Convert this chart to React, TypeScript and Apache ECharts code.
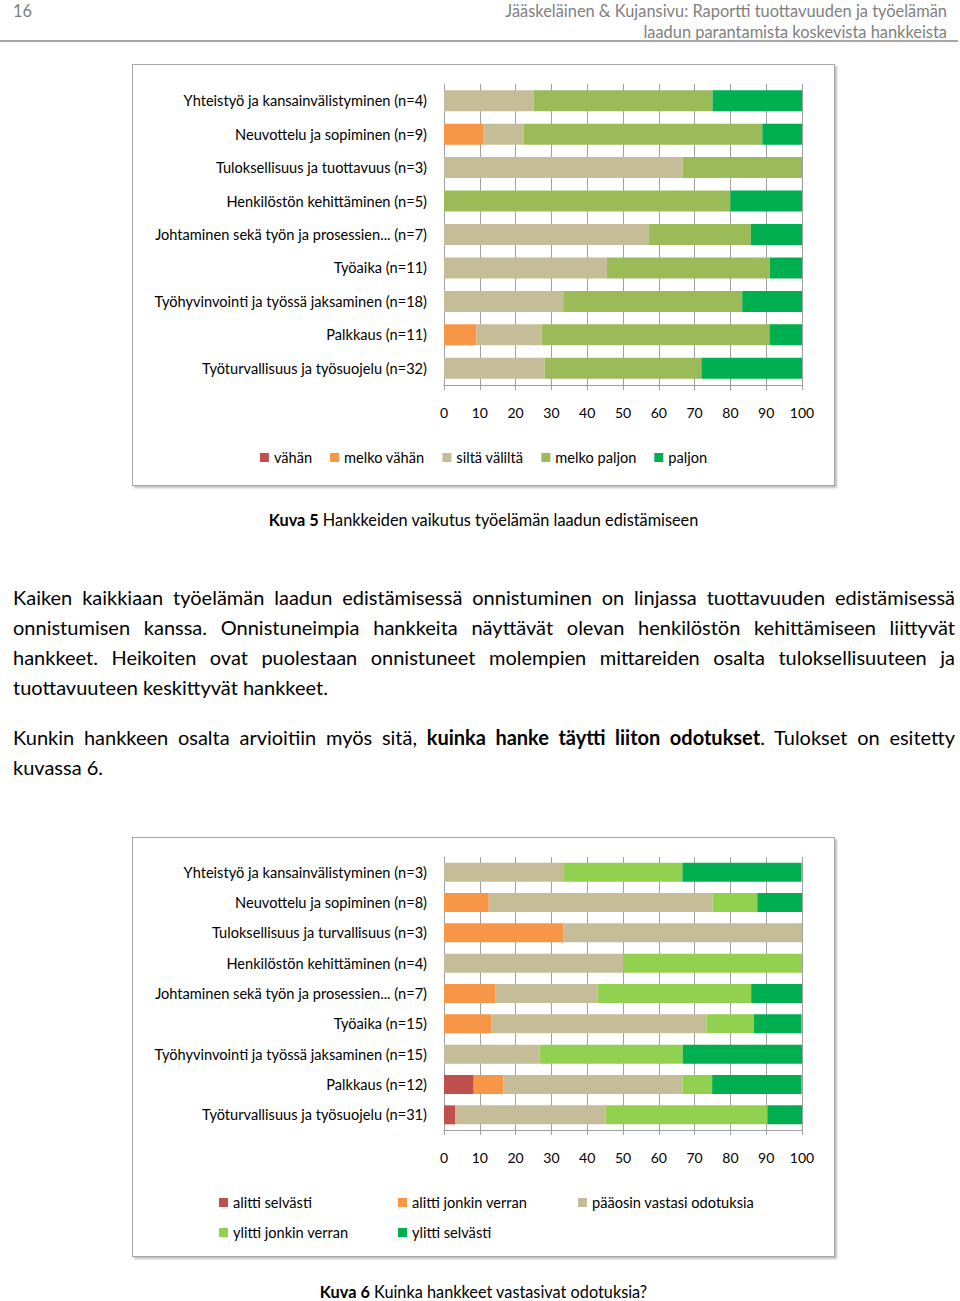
import React, { useEffect, useRef } from "react";
import * as echarts from "echarts";

const FONT = "Lato, 'Open Sans', sans-serif";

// ---- Chart 1 data (Kuva 5) ----
const cats1 = [
  "Yhteistyö ja kansainvälistyminen (n=4)",
  "Neuvottelu ja sopiminen (n=9)",
  "Tuloksellisuus ja tuottavuus (n=3)",
  "Henkilöstön kehittäminen (n=5)",
  "Johtaminen sekä työn ja prosessien... (n=7)",
  "Työaika (n=11)",
  "Työhyvinvointi ja työssä jaksaminen (n=18)",
  "Palkkaus (n=11)",
  "Työturvallisuus ja työsuojelu (n=32)",
];
const names1 = ["vähän", "melko vähän", "siltä väliltä", "melko paljon", "paljon"];
const vahan = [0, 0, 0, 0, 0, 0, 0, 0, 0];
const melkoVahan = [0, 11.1, 0, 0, 0, 0, 0, 9.1, 0];
const siltaValilta = [25, 11.1, 66.7, 0, 57.1, 45.5, 33.3, 18.2, 28.1];
const melkoPaljon = [50, 66.7, 33.3, 80, 28.6, 45.5, 50, 63.6, 43.8];
const paljon = [25, 11.1, 0, 20, 14.3, 9.1, 16.7, 9.1, 28.1];
const colors1 = ["#C0504D", "#F79646", "#C4BD97", "#9BBB59", "#00B050"];

// ---- Chart 2 data (Kuva 6) ----
const cats2 = [
  "Yhteistyö ja kansainvälistyminen (n=3)",
  "Neuvottelu ja sopiminen (n=8)",
  "Tuloksellisuus ja turvallisuus (n=3)",
  "Henkilöstön kehittäminen (n=4)",
  "Johtaminen sekä työn ja prosessien... (n=7)",
  "Työaika (n=15)",
  "Työhyvinvointi ja työssä jaksaminen (n=15)",
  "Palkkaus (n=12)",
  "Työturvallisuus ja työsuojelu (n=31)",
];
const names2 = ["alitti selvästi", "alitti jonkin verran", "pääosin vastasi odotuksia", "ylitti jonkin verran", "ylitti selvästi"];
const alittiSelvasti = [0, 0, 0, 0, 0, 0, 0, 8.3, 3.2];
const alittiJonkin = [0, 12.5, 33.3, 0, 14.3, 13.3, 0, 8.3, 0];
const paaosinVastasi = [33.3, 62.5, 66.7, 50, 28.6, 60, 26.7, 50, 41.9];
const ylittiJonkin = [33.3, 12.5, 0, 50, 42.9, 13.3, 40, 8.3, 45.2];
const ylittiSelvasti = [33.3, 12.5, 0, 0, 14.3, 13.3, 33.3, 25, 9.7];
const colors2 = ["#C0504D", "#F79646", "#C4BD97", "#92D050", "#00B050"];

const xTicks = [0, 100, 10];

function baseOption(cats: string[], names: string[], data: number[][], colors: string[], grid: any, barWidth: number, legend: any) {
  return {
    animation: false,
    textStyle: { fontFamily: FONT },
    grid,
    legend,
    xAxis: {
      type: "value",
      min: xTicks[0],
      max: xTicks[1],
      interval: xTicks[2],
      axisLine: { show: true, lineStyle: { color: "#a0a0a0", width: 1 } },
      axisTick: { show: true, length: 5, lineStyle: { color: "#a0a0a0" } },
      splitLine: { show: true, lineStyle: { color: "#a0a0a0", width: 1 } },
      axisLabel: { color: "#000", fontSize: 14, fontFamily: FONT, margin: 20 },
    },
    yAxis: {
      type: "category",
      data: cats,
      inverse: true,
      axisLine: { show: true, lineStyle: { color: "#a0a0a0" } },
      axisTick: { show: false },
      axisLabel: { color: "#000", fontSize: 14.6, fontFamily: FONT, margin: 17 },
    },
    series: names.map((n, i) => ({
      name: n,
      type: "bar",
      stack: "total",
      barWidth,
      data: data[i],
      itemStyle: { color: colors[i] },
      emphasis: { disabled: true },
    })),
  };
}

const legendText = { color: "#000", fontSize: 14.6, fontFamily: FONT };

export default function App() {
  const ref1 = useRef<HTMLDivElement>(null);
  const ref2 = useRef<HTMLDivElement>(null);

  useEffect(() => {
    const c1 = echarts.init(ref1.current!, null, { renderer: "svg" });
    c1.setOption(
      baseOption(
        cats1,
        names1,
        [vahan, melkoVahan, siltaValilta, melkoPaljon, paljon],
        colors1,
        { left: 311, top: 19, width: 358, height: 301 },
        21,
        {
          left: "center",
          top: 380,
          itemWidth: 9,
          itemHeight: 9,
          itemGap: 18,
          icon: "rect",
          textStyle: legendText,
          data: names1,
        }
      )
    );
    const c2 = echarts.init(ref2.current!, null, { renderer: "svg" });
    const lg = (name: string, left: number, top: number) => ({
      left,
      top,
      itemWidth: 9,
      itemHeight: 9,
      icon: "rect",
      textStyle: legendText,
      data: [name],
    });
    c2.setOption(
      baseOption(
        cats2,
        names2,
        [alittiSelvasti, alittiJonkin, paaosinVastasi, ylittiJonkin, ylittiSelvasti],
        colors2,
        { left: 311, top: 19, width: 358, height: 273 },
        19,
        [
          lg(names2[0], 81, 352),
          lg(names2[1], 260, 352),
          lg(names2[2], 440, 352),
          lg(names2[3], 81, 382),
          lg(names2[4], 260, 382),
        ]
      )
    );
    return () => {
      c1.dispose();
      c2.dispose();
    };
  }, []);

  const box: React.CSSProperties = {
    position: "absolute",
    left: 132,
    width: 701,
    border: "1px solid #a6a6a6",
    boxShadow: "2px 2px 2px rgba(0,0,0,0.25)",
    background: "#fff",
  };
  const para: React.CSSProperties = {
    position: "absolute",
    left: 13,
    width: 942,
    fontFamily: FONT,
    fontSize: 20,
    lineHeight: "30px",
    color: "#000",
    whiteSpace: "nowrap",
  };
  const just: React.CSSProperties = { textAlign: "justify", textAlignLast: "justify", height: 30 };
  const last: React.CSSProperties = { textAlign: "left", height: 30 };
  const caption: React.CSSProperties = {
    position: "absolute",
    left: 0,
    width: 967,
    textAlign: "center",
    fontSize: 16.3,
    lineHeight: "20px",
    color: "#000",
  };

  return (
    <div style={{ position: "absolute", left: 0, top: 0, width: 960, height: 1301, background: "#fff", fontFamily: FONT }}>
      <div style={{ position: "absolute", left: 13, top: 0, fontSize: 16.4, lineHeight: "21px", color: "#7f7f7f" }}>16</div>
      <div style={{ position: "absolute", right: 13, top: 0, fontSize: 16.4, lineHeight: "21px", color: "#7f7f7f", textAlign: "right" }}>
        <div>Jääskeläinen &amp; Kujansivu: Raportti tuottavuuden ja työelämän</div>
        <div>laadun parantamista koskevista hankkeista</div>
      </div>
      <div style={{ position: "absolute", left: 0, top: 40, width: 958, height: 2, background: "#a6a6a6" }} />

      <div style={{ ...box, top: 64, height: 420 }}>
        <div ref={ref1} style={{ width: 701, height: 420 }} />
      </div>
      <div style={{ ...caption, top: 510 }}>
        <b>Kuva 5</b> Hankkeiden vaikutus työelämän laadun edistämiseen
      </div>

      <div style={{ ...para, top: 582 }}>
        <div style={just}>Kaiken kaikkiaan työelämän laadun edistämisessä onnistuminen on linjassa tuottavuuden edistämisessä</div>
        <div style={just}>onnistumisen kanssa. Onnistuneimpia hankkeita näyttävät olevan henkilöstön kehittämiseen liittyvät</div>
        <div style={just}>hankkeet. Heikoiten ovat puolestaan onnistuneet molempien mittareiden osalta tuloksellisuuteen ja</div>
        <div style={last}>tuottavuuteen keskittyvät hankkeet.</div>
      </div>
      <div style={{ ...para, top: 722 }}>
        <div style={just}>
          Kunkin hankkeen osalta arvioitiin myös sitä, <b>kuinka hanke täytti liiton odotukset</b>. Tulokset on esitetty
        </div>
        <div style={last}>kuvassa 6.</div>
      </div>

      <div style={{ ...box, top: 837, height: 418 }}>
        <div ref={ref2} style={{ width: 701, height: 418 }} />
      </div>
      <div style={{ ...caption, top: 1282 }}>
        <b>Kuva 6</b> Kuinka hankkeet vastasivat odotuksia?
      </div>
    </div>
  );
}
